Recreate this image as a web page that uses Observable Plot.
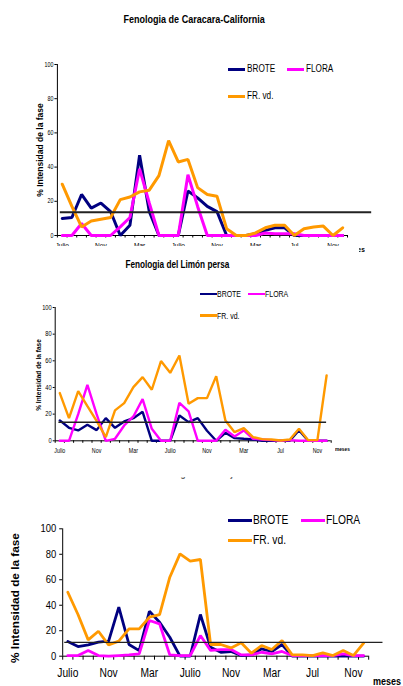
<!DOCTYPE html>
<html><head><meta charset="utf-8">
<script src="https://cdn.jsdelivr.net/npm/d3@7"></script>
<script src="https://cdn.jsdelivr.net/npm/@observablehq/plot@0.6"></script>
<style>
body{margin:0;background:#fff;}
#wrap{position:relative;width:403px;height:686px;overflow:hidden;font-family:"Liberation Sans Narrow","Arial Narrow","Liberation Sans",Arial,sans-serif;color:#000;}
.abs{position:absolute;white-space:nowrap;line-height:1;}
.panel{position:absolute;left:0;width:403px;overflow:hidden;}
</style></head><body><div id="wrap"></div>
<script>
const months = d3.range(30);
const tickLabels = ["Julio","Nov","Mar","Julio","Nov","Mar","Jul","Nov"];
const seriesNames = ["BROTE","FLORA","FR. vd."];
const colors = ["#000080","#FF00FF","#FF9900"];

const titles = ["Fenologia de Caracara-California","Fenologia del Limón persa","Fenologia de Naranja Valencia"];
const yTitle = "% Intensidad de la fase";
const xTitle = "meses";

// Panel 1: Caracara-California
const brote1 = [10,10.5,24,16,19,14,0,6,47,14,0,0,0,26,22,17,14,0,0,0,1,3,4.5,4.5,0,0,0,0,0,0];
const flora1 = [0,0,7,0,0,0,5,10.5,39,19,0,0,0,35.5,17,0,0,0,0,0,0,1.5,1,1,1,0,0,0,0,0];
const frvd1  = [30,17,5,8.5,9.5,10.5,21,22.5,25.5,26.5,35,55.5,43,44.5,28,24,23,4,0,0,1.5,4.5,6,6,0,4,5,5.5,0,4.5];
const ref1 = 13.6;

// Panel 2: Limón persa
const brote2 = [15.3,9.75,7.75,12,8,17,9.75,14.5,17,21.75,0,0,0,19,14,17,7.5,0,6,2,1.5,1,0,0,0,0,8,0,0,0];
const flora2 = [0,0,20,42,20,0,1.5,11.5,18.25,31.25,9,0,0,28.5,22,0,0,0,8.25,3.25,7.75,1.5,1,0.5,0,0.5,0,0,0,0];
const frvd2  = [35.8,17,37.3,26,15,2.75,22.8,28.3,40.3,47.8,38.3,59.8,51,64,27.8,32,32,48.5,15.3,6.5,9.5,2.75,1.25,1,0.25,1,9,0.5,0.5,49];
const ref2 = 14;

// Panel 3
const brote3 = [11.5,7.6,8.9,11,11.8,38.5,9.2,4.4,35.3,26.7,14.9,0,0,32.7,7,3.1,3.7,0.5,1,5.8,3.7,9.2,0,0,0,0,0,0,0,0];
const flora3 = [0.5,0.5,4.4,0.5,0,0.5,1,1.8,28,25.4,1,0.5,0.5,16.2,4.5,5.2,5.2,1,1,3.1,1.8,3.7,0.5,0.5,0.5,0.5,0.5,1.8,0.5,0.5];
const frvd3  = [50.2,32.7,12.8,19.6,8.9,11.8,21.5,21.5,30.6,32.7,62,80.3,74.6,75.9,9.2,9.2,6.5,10.5,2.4,8.4,5.2,12.3,1,1,0.5,2.6,0.5,4.4,0.5,10.2];
const ref3 = 10.8;

const yTicks = [0,20,40,60,80,100];
const FONT = '"Liberation Sans Narrow","Arial Narrow","Liberation Sans",Arial,sans-serif';
const wrap = document.getElementById("wrap");
const NARROW_AVAILABLE = document.fonts && document.fonts.check ? document.fonts.check('12px "Liberation Sans Narrow"') : false;
const SX = 0.82;

function el(parent, css, text, origin){
  const d = document.createElement("div");
  d.className = "abs";
  Object.assign(d.style, css);
  if (text != null) {
    const s = document.createElement("span");
    s.textContent = text;
    s.style.display = "inline-block";
    s.style.transformOrigin = origin || "left center";
    s.style.transform = `scaleX(${SX})`;
    d.appendChild(s);
  }
  parent.appendChild(d);
  return d;
}

function squeezeSvgText(svg){
  svg.querySelectorAll("text").forEach(t => {
    const x = +(t.getAttribute("x") || 0);
    const tr = t.getAttribute("transform") || "";
    t.setAttribute("transform", `${tr} translate(${x},0) scale(${SX},1) translate(${-x},0)`);
  });
}

function panel(c){
  const box = document.createElement("div");
  box.className = "panel";
  box.style.top = c.top + "px";
  box.style.height = c.height + "px";
  wrap.appendChild(box);
  const series = c.series.map((arr, k) => ({name: seriesNames[k], color: colors[k], data: months.map(i => ({i, v: arr[i]}))}));
  const chart = Plot.plot({
    width: 403, height: c.height,
    marginLeft: c.xL, marginRight: 403 - c.xR,
    marginTop: c.y100 - c.top, marginBottom: c.top + c.height - c.y0,
    x: {domain: [-0.5, 29.5]},
    y: {domain: [0, 100]},
    style: {background: "transparent", overflow: "visible", fontFamily: '"Liberation Sans",Arial,sans-serif', color: "#000"},
    marks: [
      Plot.axisY({ticks: yTicks, tickSize: c.yTick, tickPadding: c.yPad, fontSize: c.yFont, label: null}),
      Plot.axisX({ticks: d3.range(31).map(k => k - 0.5), tickSize: c.xTick, tickFormat: () => "", label: null}),
      Plot.axisX({ticks: [0,4,8,12,16,20,24,28], tickSize: 0, tickPadding: c.xPad, fontSize: c.xFont, tickFormat: d => tickLabels[d/4], label: null}),
      Plot.ruleX([-0.5], {y1: 0, y2: 100, stroke: "#000", strokeWidth: c.axW}),
      Plot.ruleY([0], {x1: -0.5, x2: 29.5, stroke: "#000", strokeWidth: c.axW}),
      ...series.map(s => Plot.line(s.data, {x: "i", y: "v", stroke: s.color, strokeWidth: c.lw, strokeLinejoin: "miter"})),
      Plot.ruleY([c.ref], {x1: c.refX[0], x2: c.refX[1], stroke: "#222", strokeWidth: c.refW})
    ]
  });
  squeezeSvgText(chart);
  box.appendChild(chart);
  // title
  if (c.title) el(wrap, {left: (c.title.x - 150) + "px", width: "300px", textAlign: "center", top: (c.title.y - 0.49*c.title.fs) + "px", fontSize: c.title.fs + "px", fontWeight: "bold"}, c.title.text, "center center");
  // y title
  const yt = document.createElement("div");
  yt.className = "abs";
  Object.assign(yt.style, {left: c.yt.x + "px", top: c.yt.y + "px", fontSize: c.yt.fs + "px", fontWeight: "bold", fontFamily: '"Liberation Sans",Arial,sans-serif', transform: "translate(-50%,-50%) rotate(-90deg)"});
  yt.textContent = yTitle;
  wrap.appendChild(yt);
  // legend
  c.legend.forEach((p, k) => {
    el(wrap, {left: p[0] + "px", top: (p[2] - c.lg.lh/2) + "px", width: (p[1]-p[0]) + "px", height: c.lg.lh + "px", background: colors[k]});
    el(wrap, {left: p[3] + "px", top: (p[2] - 0.49*c.lg.fs) + "px", fontSize: c.lg.fs + "px"}, seriesNames[k]);
  });
}

// Panel 1
panel({top: 0, height: 245.5, xL: 56.9, xR: 347, y0: 235, y100: 64,
  series: [brote1, flora1, frvd1], ref: ref1, refX: [-0.2, 32],
  yTick: 2.5, yPad: 1.5, yFont: 6.5, xTick: 2.5, xPad: 7, xFont: 8, axW: 1, lw: 3, refW: 2,
  title: {text: titles[0], x: 194.5, y: 19.5, fs: 11},
  yt: {x: 40, y: 150, fs: 8.5},
  legend: [[227.7,245,69,246.7],[286.7,304,69,305.7],[227.7,245,96,246.7]],
  lg: {fs: 10, lh: 3}
});
// "meses" of panel 1, mostly hidden
{
  const clip = el(wrap, {left: "359px", top: "246px", width: "6px", height: "8px", overflow: "hidden"});
  el(clip, {right: "0px", top: "0px", fontSize: "8px", fontWeight: "bold"}, xTitle, "right center");
}

// Panel 2
panel({top: 250, height: 228, xL: 54.7, xR: 330.7, y0: 440.3, y100: 307,
  series: [brote2, flora2, frvd2], ref: ref2, refX: [-0.1, 29],
  yTick: 2, yPad: 1.5, yFont: 7, xTick: 2.5, xPad: 8, xFont: 6.5, axW: 1, lw: 2.4, refW: 1.5,
  title: {text: titles[1], x: 177, y: 264.7, fs: 10},
  yt: {x: 38.5, y: 374.5, fs: 6.5},
  legend: [[200,216.7,294,217.3],[248,265,294,265.3],[200,216.7,315.7,217.3]],
  lg: {fs: 8.5, lh: 2.5}
});
el(wrap, {left: "335px", top: (450 - 0.49*5.8) + "px", fontSize: "5.8px", fontWeight: "bold"}, xTitle);
// cut-off title between panels
{
  const clip = el(wrap, {left: "153px", top: "476.5px", width: "122px", height: "3.5px", overflow: "hidden"});
  el(clip, {left: "0px", top: (478 - 476.5 - 0.8465*10.2) + "px", fontSize: "10.2px", fontWeight: "bold", color: "#666"}, titles[2]);
}

// Panel 3
panel({top: 480, height: 206, xL: 62.2, xR: 368.2, y0: 655.7, y100: 528.3,
  series: [brote3, flora3, frvd3], ref: ref3, refX: [-0.3, 30.9],
  yTick: 3, yPad: 3.5, yFont: 11.5, xTick: 4, xPad: 11.6, xFont: 12.5, axW: 1, lw: 2.8, refW: 1.3,
  title: null,
  yt: {x: 16, y: 598, fs: 11.8},
  legend: [[228,252,520,253.3],[301,325,520,326],[228,252,540,253.3]],
  lg: {fs: 12.5, lh: 3}
});
el(wrap, {left: "372.7px", top: (681.5 - 0.49*11) + "px", fontSize: "11px", fontWeight: "bold"}, xTitle);
</script>
</body></html>
